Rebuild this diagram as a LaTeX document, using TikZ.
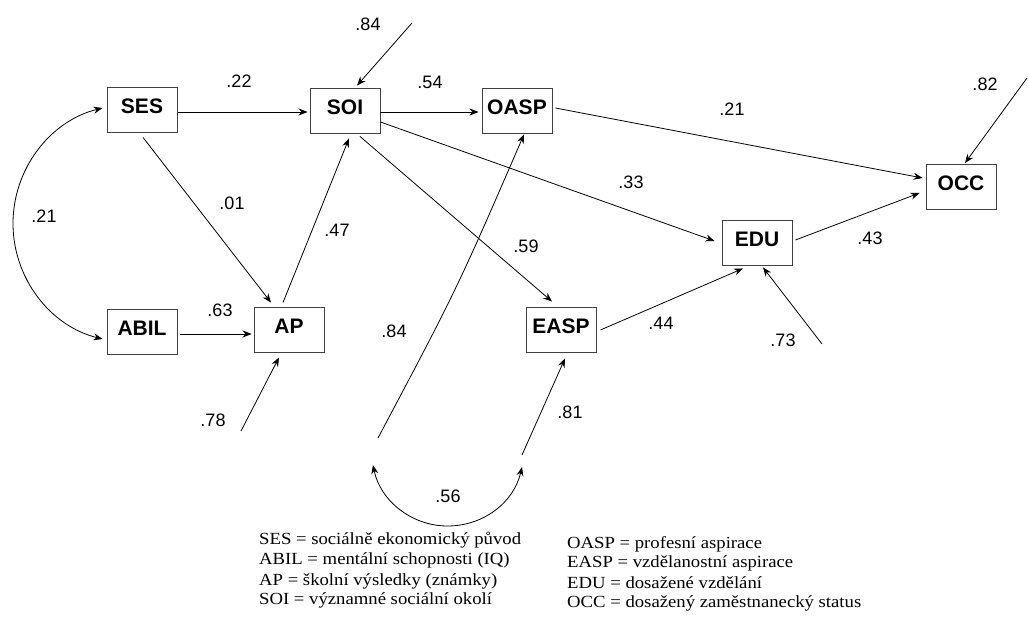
\documentclass[tikz,border=0pt]{standalone}
\usepackage{fontspec}
\setmainfont{Liberation Sans}
\newfontfamily\legendfont{Liberation Serif}[FakeStretch=1.1]
\usetikzlibrary{arrows.meta,calc}

\tikzset{
  var/.style={draw=black!75, line width=0.9pt, fill=white,
    minimum width=70pt, minimum height=45pt, inner sep=0pt,
    font=\fontsize{21}{21}\selectfont\bfseries,
    text height=15pt, text depth=7pt},
  coef/.style={inner sep=0pt, font=\fontsize{18}{18}\selectfont},
  tip/.tip={Stealth[length=9pt,width=7pt,inset=3pt]},
  link/.style={-tip, line width=0.8pt},
  corr/.style={tip-tip, line width=0.8pt},
  legend/.style={anchor=base west, inner sep=0pt,
    font=\legendfont\fontsize{17}{20}\selectfont},
}

\begin{document}
\begin{tikzpicture}[x=1pt,y=-1pt]
\useasboundingbox[fill=white] (0,0) rectangle (1029,617);

% observed variables
\node[var] (ses)  at (142,109.5) {SES};
\node[var] (soi)  at (345,110.5) {SOI};
\node[var] (oasp) at (517,110.5) {OASP};
\node[var] (abil) at (142,332)   {ABIL};
\node[var] (ap)   at (289,329.5) {AP};
\node[var] (easp) at (561,329.5) {EASP};
\node[var] (edu)  at (757,242.5) {EDU};
\node[var] (occ)  at (961,187)   {OCC};

% structural paths
\draw[link] ($(ses.east)+(1,2.5)$)   -- ($(soi.west)+(-2,1.5)$);
\draw[link] ($(ses.south)+(1,5)$)    -- ($(ap.north)+(-18,-4)$);
\draw[link] ($(abil.east)+(3,2)$)    -- ($(ap.west)+(-2,4.5)$);
\draw[link] ($(ap.north)+(-6,-4)$)   -- ($(soi.south)+(4,5)$);
\draw[link] ($(soi.east)+(0,1.5)$)   -- ($(oasp.west)+(-3,1.5)$);
\draw[link] ($(oasp.east)+(3,-2.5)$) -- ($(occ.west)+(-3,-9)$);
\draw[link] ($(soi.east)+(0,11.5)$)  -- ($(edu.west)+(-7,-1.5)$);
\draw[link] ($(soi.south)+(15,3)$)   -- ($(easp.north)+(-9,-5)$);
\draw[link] ($(easp.east)+(4,0.5)$)  -- ($(edu.south)+(-14,3)$);
\draw[link] ($(edu.east)+(3,-2.5)$)  -- ($(occ.west)+(-6,6)$);

% disturbance terms
\coordinate (e-soi)  at (412,23);
\coordinate (e-occ)  at (1027,78);
\coordinate (e-edu)  at (822,344);
\coordinate (e-ap)   at (241,431);
\coordinate (e-easp) at (522,455);
\coordinate (e-oasp) at (378,438);
\draw[link] (e-soi)  -- ($(soi.north)+(12,-2)$);
\draw[link] (e-occ)  -- ($(occ.north)+(4,-1)$);
\draw[link] (e-edu)  -- ($(edu.south)+(6,2)$);
\draw[link] (e-ap)   -- ($(ap.south)+(-10,5)$);
\draw[link] (e-easp) -- ($(easp.south)+(4,6)$);
\draw[link] (e-oasp) .. controls (457,289) .. ($(oasp.south)+(7,1)$);

% correlations
\draw[corr] ($(ses.west)+(-4,-1.5)$)
  .. controls (50,121) and (13,169) .. (13,223.5)
  .. controls (13,278) and (50,326) .. ($(abil.west)+(-4,7)$);
\coordinate (r-oasp) at (373,465);
\coordinate (r-easp) at (522,467);
\draw[corr] (r-oasp) .. controls (380.2,500.3) and (411.3,526) .. (447.5,526)
  .. controls (483.7,526) and (513.8,502.3) .. (r-easp);

% coefficients
\node[coef] (c-ses-soi)   at (239,81)  {.22};
\node[coef] (c-ses-ap)    at (232,203) {.01};
\node[coef] (c-ses-abil)  at (44,216)  {.21};
\node[coef] (c-ap-soi)    at (337,230) {.47};
\node[coef] (c-abil-ap)   at (220,310) {.63};
\node[coef] (c-e-ap)      at (213,420) {.78};
\node[coef] (c-e-soi)     at (368,24)  {.84};
\node[coef] (c-soi-oasp)  at (430,82)  {.54};
\node[coef] (c-oasp-occ)  at (732,109) {.21};
\node[coef] (c-e-occ)     at (985,84)  {.82};
\node[coef] (c-edu-occ)   at (870,238) {.43};
\node[coef] (c-e-edu)     at (783,340) {.73};
\node[coef] (c-soi-edu)   at (631,182) {.33};
\node[coef] (c-soi-easp)  at (526,246) {.59};
\node[coef] (c-e-oasp)    at (394,331) {.84};
\node[coef] (c-e-easp)    at (570,412) {.81};
\node[coef] (c-easp-edu)  at (661,323) {.44};
\node[coef] (c-oasp-easp) at (448,496) {.56};

% legend
\node[legend] (l1) at (259,545) {SES = sociálně ekonomický původ};
\node[legend] (l2) at (259,565) {ABIL = mentální schopnosti (IQ)};
\node[legend] (l3) at (259,585) {AP = školní výsledky (známky)};
\node[legend] (l4) at (259,605) {SOI = významné sociální okolí};
\node[legend] (l5) at (567,548) {OASP = profesní aspirace};
\node[legend] (l6) at (567,568) {EASP = vzdělanostní aspirace};
\node[legend] (l7) at (567,588) {EDU = dosažené vzdělání};
\node[legend] (l8) at (567,608) {OCC = dosažený zaměstnanecký status};
\end{tikzpicture}
\end{document}
